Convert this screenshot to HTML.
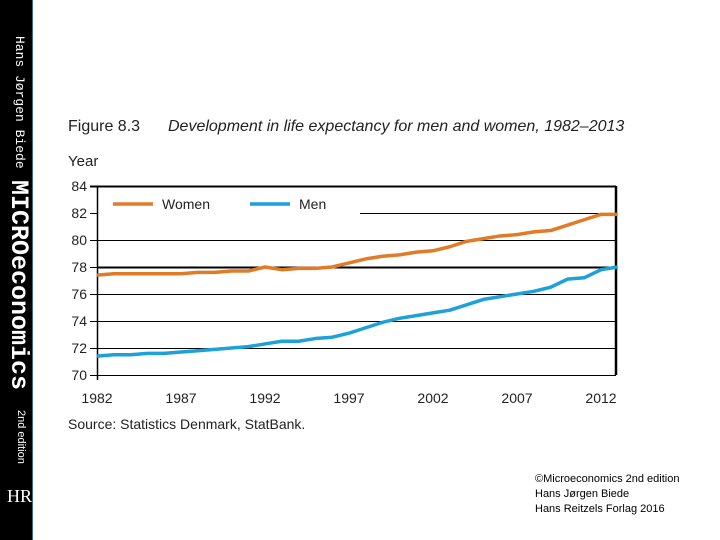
<!DOCTYPE html>
<html><head><meta charset="utf-8"><style>
body{margin:0;width:720px;height:540px;background:#fff;overflow:hidden;position:relative;font-family:"Liberation Sans",sans-serif}
.side{position:absolute;left:0;top:0;width:32px;height:540px;background:#000;border-right:1px solid #3a6a8a}
.vt{position:absolute;color:#fff;transform:rotate(90deg);transform-origin:left top;white-space:nowrap}
.t{position:absolute;white-space:nowrap;color:#222}
</style></head><body>
<div class="side">
<div class="vt" style="left:27px;top:36px;font-size:13px;font-family:'Liberation Mono',monospace">Hans Jørgen Biede</div>
<div class="vt" style="left:33px;top:180px;font-size:25px;font-weight:bold;font-family:'Liberation Mono',monospace;letter-spacing:0px">MICROeconomics</div>
<div class="vt" style="left:27px;top:410px;font-size:11px">2nd edition</div>
<div class="t" style="left:7px;top:486px;color:#fff;font-size:18px;font-family:'Liberation Serif',serif">HR</div>
</div>
<div class="t" style="left:68px;top:118px;font-size:16px">Figure 8.3</div>
<div class="t" style="left:168px;top:118px;font-size:16px;font-style:italic">Development in life expectancy for men and women, 1982–2013</div>
<div class="t" style="left:68px;top:153px;font-size:15px">Year</div>
<div class="t" style="left:68px;top:416px;font-size:14px">Source: Statistics Denmark, StatBank.</div>
<div class="t" style="left:535px;top:472px;font-size:11px;line-height:15px;color:#000">©Microeconomics 2nd edition<br>Hans Jørgen Biede<br>Hans Reitzels Forlag 2016</div>
<svg id="c" width="720" height="540" style="position:absolute;left:0;top:0"></svg>
<script>
const years=[1982,1983,1984,1985,1986,1987,1988,1989,1990,1991,1992,1993,1994,1995,1996,1997,1998,1999,2000,2001,2002,2003,2004,2005,2006,2007,2008,2009,2010,2011,2012,2013];
const women=[77.4,77.5,77.5,77.5,77.5,77.5,77.6,77.6,77.7,77.7,78.0,77.8,77.9,77.9,78.0,78.3,78.6,78.8,78.9,79.1,79.2,79.5,79.9,80.1,80.3,80.4,80.6,80.7,81.1,81.5,81.9,81.9];
const men=[71.4,71.5,71.5,71.6,71.6,71.7,71.8,71.9,72.0,72.1,72.3,72.5,72.5,72.7,72.8,73.1,73.5,73.9,74.2,74.4,74.6,74.8,75.2,75.6,75.8,76.0,76.2,76.5,77.1,77.2,77.8,78.0];
const yTicks=[70,72,74,76,78,80,82,84];
const xTicks=[1982,1987,1992,1997,2002,2007,2012];
const NS='http://www.w3.org/2000/svg',svg=document.getElementById('c');
const X=v=>97+(v-1982)*16.8, Y=v=>375-(v-70)*13.5;
const Yc=v=>Math.round(Y(v))+0.5;
function mk(t,a,p){const e=document.createElementNS(NS,t);for(const k in a)e.setAttribute(k,a[k]);(p||svg).appendChild(e);return e;}
yTicks.forEach(v=>{
 const x1=(v==82)?360:97;
 const g=mk('line',{x1:(v==84||v==70)?90:x1,x2:616,y1:Yc(v),y2:Yc(v),stroke:'#000','stroke-width':v==78||v==84?2:1});
 
 if(v!=84&&v!=70){const tk=mk('line',{x1:90,x2:97,y1:Yc(v),y2:Yc(v),stroke:'#000'});}
 const t=mk('text',{x:87,y:Y(v)+5,'text-anchor':'end','font-size':14,fill:'#222','font-family':'Liberation Sans'});t.textContent=v;
 
});
const ax=mk('line',{x1:97.5,x2:97.5,y1:Y(84),y2:Y(70)+5,stroke:'#000','stroke-width':1.5});
const rb=mk('line',{x1:616,x2:616,y1:Y(84),y2:Y(70),stroke:'#000','stroke-width':2.5});
xTicks.forEach(v=>{
 const t=mk('text',{x:X(v),y:403,'text-anchor':'middle','font-size':14,fill:'#222','font-family':'Liberation Sans'});t.textContent=v;
 
});
function line(d,c,n){const p=mk('polyline',{points:d.map((v,i)=>X(years[i])+','+Y(v)).join(' '),fill:'none',stroke:c,'stroke-width':3.5,'stroke-linejoin':'round'});
 }
line(women,'#e07b28','women-line');line(men,'#1ea0d8','men-line');
[[113,'#e07b28','Women','legend-women'],[250,'#1ea0d8','Men','legend-men']].forEach(l=>{
 const g=mk('g',{});
 mk('line',{x1:l[0],x2:l[0]+40,y1:204,y2:204,stroke:l[1],'stroke-width':3.5},g);
 const t=mk('text',{x:l[0]+49,y:209,'font-size':14,fill:'#222','font-family':'Liberation Sans'},g);t.textContent=l[2];
});
</script>
</body></html>
